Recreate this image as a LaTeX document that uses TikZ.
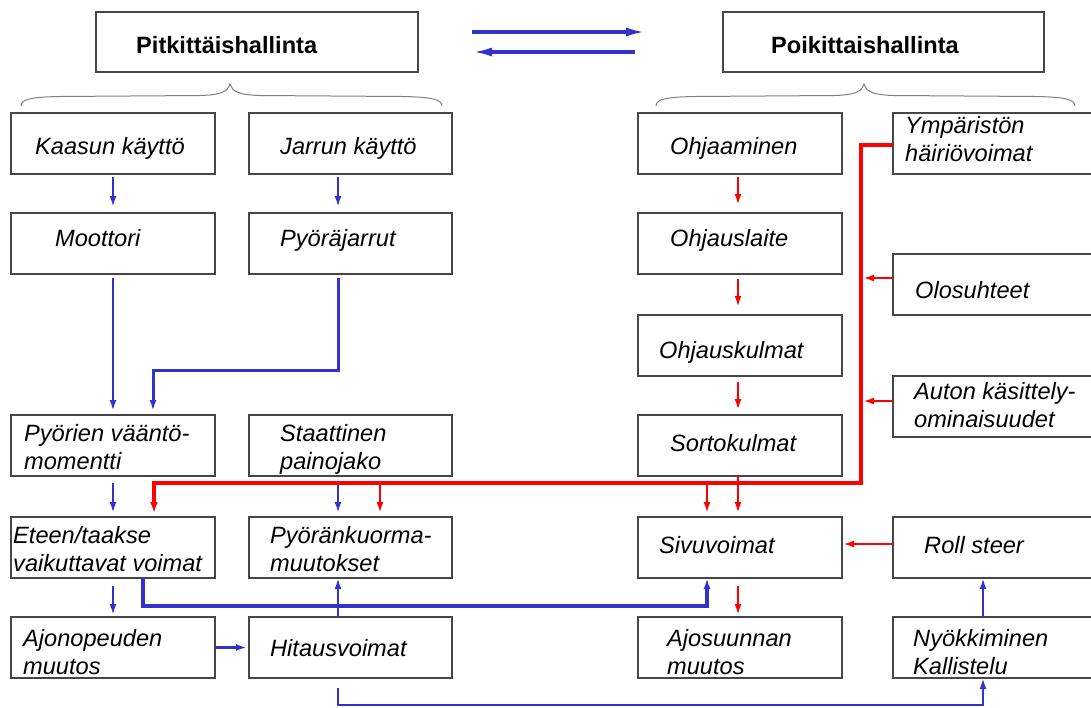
\documentclass[tikz,border=0pt]{standalone}
\usepackage{fontspec}
\setmainfont{Liberation Sans}
\usetikzlibrary{arrows.meta}
\definecolor{myblue}{RGB}{51,51,204}
\definecolor{myred}{RGB}{255,0,0}
\definecolor{boxgray}{RGB}{70,70,70}
\definecolor{bracegray}{RGB}{128,128,128}
\newcommand{\twoline}[2]{\begin{tabular}[t]{@{}l@{}}#1\\#2\end{tabular}}
\tikzset{
  box/.style={draw=boxgray, line width=1.4pt, inner sep=0pt, outer sep=0pt, anchor=north west, minimum height=61pt},
  colA/.style={box, minimum width=204pt},
  colB/.style={box, minimum width=203pt},
  colC/.style={box, minimum width=204pt},
  colD/.style={box, minimum width=212pt},
  txt/.style={inner sep=0pt, anchor=base west, font=\fontsize{23.6}{28.3}\selectfont\itshape},
  ttl/.style={inner sep=0pt, anchor=base west, font=\fontsize{23.6}{28.3}\selectfont\bfseries},
  barrow/.style={draw=myblue, line width=2.7pt, -{Latex[length=11pt,width=7pt]}},
  rarrow/.style={draw=myred, line width=2.6pt, -{Latex[length=11pt,width=7pt]}},
  rmain/.style={draw=myred, line width=4.2pt, -{Latex[length=11pt,width=8pt]}},
  tarrow/.style={draw=myblue, line width=3.4pt, -{Latex[length=20pt,width=9pt]}},
  bracestyle/.style={draw=bracegray, line width=1pt},
}
\begin{document}
\begin{tikzpicture}[x=1pt,y=-1pt]
\useasboundingbox (0,0) rectangle (1091,707);

% title boxes
\node[box, minimum width=322pt, minimum height=60pt] (tl) at (96,12) {};
\node[box, minimum width=321pt, minimum height=60pt] (tr) at (723,12) {};
\node[ttl] (tPit) at (136,53) {Pitkittäishallinta};
\node[ttl] (tPoi) at (771,53) {Poikittaishallinta};

% title arrows
\draw[tarrow] ([shift={(54,-10)}]tl.east) -- ([shift={(-77,-10)}]tr.west);
\draw[tarrow] ([shift={(-88,10)}]tr.west) -- ([shift={(54,10)}]tl.east);

% braces
\draw[bracestyle] (21,106) .. controls (21,99) and (32,97) .. (60,96.5) -- (200,95.5) .. controls (222,95) and (228,91) .. (230,84) .. controls (232,91) and (238,95) .. (260,95.5) -- (402,96.5) .. controls (430,97) and (442,99) .. (442,106);
\draw[bracestyle] (656,106) .. controls (656,99) and (667,97) .. (695,96.5) -- (834,95.5) .. controls (856,95) and (862,91) .. (864,84) .. controls (866,91) and (872,95) .. (894,95.5) -- (1035,96.5) .. controls (1063,97) and (1075,99) .. (1075,106);

% column A
\node[colA] (kaasun)  at (11,113) {};
\node[colA] (moottori) at (11,213) {};
\node[colA] (pyorien) at (11,415) {};
\node[colA] (eteen)   at (11,517) {};
\node[colA] (ajonop)  at (11,617) {};
% column B
\node[colB] (jarrun)  at (249,113) {};
\node[colB] (pjarrut) at (249,213) {};
\node[colB] (staat)   at (249,415) {};
\node[colB] (pkuorma) at (249,517) {};
\node[colB] (hitaus)  at (249,617) {};
% column C
\node[colC] (ohjaam)   at (638,113) {};
\node[colC] (ohjlaite) at (638,213) {};
\node[colC] (ohjkulm)  at (638,315) {};
\node[colC] (sorto)    at (638,415) {};
\node[colC] (sivu)     at (638,517) {};
\node[colC] (ajosuun)  at (638,617) {};
% column D
\node[colD] (ymp)   at (893,113) {};
\node[colD] (olos)  at (893,254) {};
\node[colD] (auton) at (893,376) {};
\node[colD] (roll)  at (893,517) {};
\node[colD] (nyok)  at (893,617) {};

% texts
\node[txt] (t1) at (35,154) {Kaasun käyttö};
\node[txt] (t2) at (280,154) {Jarrun käyttö};
\node[txt] (t3) at (55,246) {Moottori};
\node[txt] (t4) at (280,246) {Pyöräjarrut};
\node[txt] (t5) at (24,441) {\twoline{Pyörien vääntö-}{momentti}};
\node[txt] (t6) at (280,441) {\twoline{Staattinen}{painojako}};
\node[txt] (t7) at (13,543) {\twoline{Eteen/taakse}{vaikuttavat voimat}};
\node[txt] (t8) at (270,543) {\twoline{Pyöränkuorma-}{muutokset}};
\node[txt] (t9) at (23,646) {\twoline{Ajonopeuden}{muutos}};
\node[txt] (t10) at (270,656) {Hitausvoimat};
\node[txt] (t11) at (670,154) {Ohjaaminen};
\node[txt] (t12) at (670,246) {Ohjauslaite};
\node[txt] (t13) at (659,358) {Ohjauskulmat};
\node[txt] (t14) at (670,451) {Sortokulmat};
\node[txt] (t15) at (659,553) {Sivuvoimat};
\node[txt] (t16) at (667,646) {\twoline{Ajosuunnan}{muutos}};
\node[txt] (t17) at (905,133) {\twoline{Ympäristön}{häiriövoimat}};
\node[txt] (t18) at (915,298) {Olosuhteet};
\node[txt] (t19) at (914,399) {\twoline{Auton käsittely-}{ominaisuudet}};
\node[txt] (t20) at (924,553) {Roll steer};
\node[txt] (t21) at (913,646) {\twoline{Nyökkiminen}{Kallistelu}};

% helper coordinates
\coordinate (cA) at (113,0);
\coordinate (cB) at (338,0);
\coordinate (cC) at (738,0);
\coordinate (j2) at (153,370);
\coordinate (e1) at (143,606);
\coordinate (e2) at (707,606);
\coordinate (h1) at (338,705);
\coordinate (h2) at (983,705);
\coordinate (rm1) at (861,145);
\coordinate (rm2) at (861,483);
\coordinate (rm3) at (154,483);
\coordinate (rb1) at (380,483);
\coordinate (rb2) at (707,483);
\coordinate (v1) at (863,278);
\coordinate (v2) at (863,401);
\coordinate (rs) at (0,544);

% blue connectors
\draw[barrow, shorten <=3pt, shorten >=6pt] (kaasun.south -| cA) -- (moottori.north -| cA);
\draw[barrow, shorten <=3pt, shorten >=6pt] (jarrun.south -| cB) -- (pjarrut.north -| cB);
\draw[barrow, line width=2.9pt, shorten <=4pt, shorten >=4pt] (moottori.south -| cA) -- (pyorien.north -| cA);
\draw[barrow, line width=3pt, shorten <=4pt, shorten >=4pt] (pjarrut.south -| cB) |- (j2) -- (pyorien.north -| j2);
\draw[barrow, shorten <=7pt, shorten >=4pt] (pyorien.south -| cA) -- (eteen.north -| cA);
\draw[barrow, shorten <=7pt, shorten >=4pt] (staat.south -| cB) -- (pkuorma.north -| cB);
\draw[barrow, shorten <=8pt, shorten >=2pt] (eteen.south -| cA) -- (ajonop.north -| cA);
\draw[barrow, line width=3.3pt] (eteen.south -| e1) -- (e1) -- (e2) -- (sivu.south -| e2);
\draw[barrow] (hitaus.north -| cB) -- (pkuorma.south -| cB);
\draw[barrow, shorten <=1pt, shorten >=2pt] (ajonop.east) -- (hitaus.west);
\draw[barrow, line width=2.3pt, shorten <=10pt] (hitaus.south -| h1) -- (h1) -- (h2) -- (nyok.south -| h2);
\draw[barrow] (nyok.north -| h2) -- (roll.south -| h2);

% red connectors
\draw[rmain, shorten >=4pt] (ymp.west |- rm1) -- (rm1) -- (rm2) -- (rm3) -- (eteen.north -| rm3);
\draw[rarrow, shorten >=4pt] (rb1) -- (pkuorma.north -| rb1);
\draw[rarrow, shorten >=4pt] (rb2) -- (sivu.north -| rb2);
\draw[rarrow] (olos.west |- v1) -- (v1);
\draw[rarrow] (auton.west |- v2) -- (v2);
\draw[rarrow, shorten <=3pt, shorten >=8pt] (ohjaam.south -| cC) -- (ohjlaite.north -| cC);
\draw[rarrow, shorten <=5pt, shorten >=8pt] (ohjlaite.south -| cC) -- (ohjkulm.north -| cC);
\draw[rarrow, shorten <=6pt, shorten >=5pt] (ohjkulm.south -| cC) -- (sorto.north -| cC);
\draw[rarrow, shorten >=4pt] (sorto.south -| cC) -- (sivu.north -| cC);
\draw[rarrow, shorten <=8pt, shorten >=2pt] (sivu.south -| cC) -- (ajosuun.north -| cC);
\draw[rarrow, line width=2.8pt, shorten >=1pt] (roll.west |- rs) -- (sivu.east |- rs);
\end{tikzpicture}
\end{document}
